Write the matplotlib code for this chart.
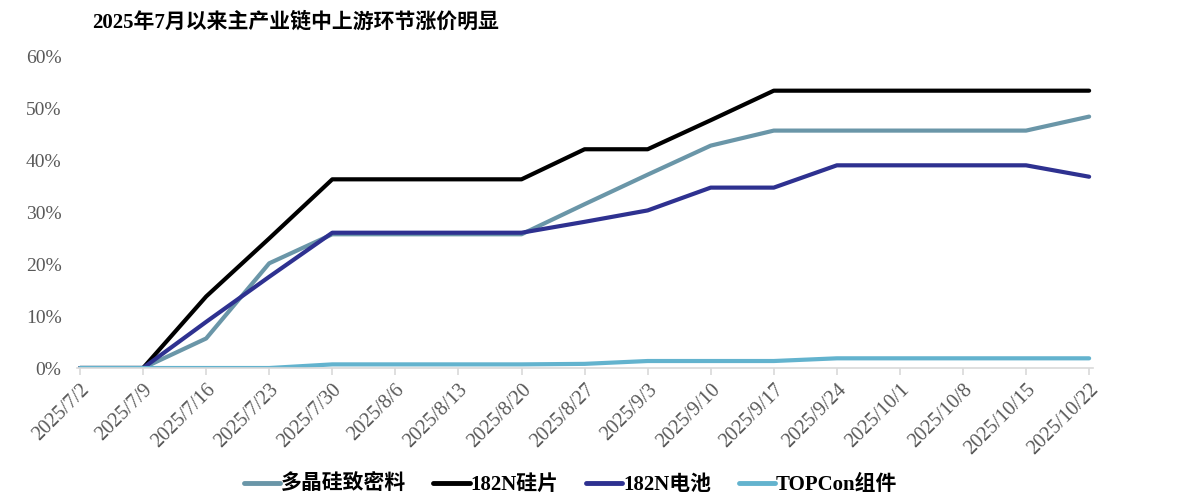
import matplotlib.pyplot as plt
import numpy as np

plt.rcParams['font.family'] = ['Liberation Serif', 'Noto Sans CJK SC']

dates = ["2025/7/2", "2025/7/9", "2025/7/16", "2025/7/23", "2025/7/30", "2025/8/6",
         "2025/8/13", "2025/8/20", "2025/8/27", "2025/9/3", "2025/9/10", "2025/9/17",
         "2025/9/24", "2025/10/1", "2025/10/8", "2025/10/15", "2025/10/22"]

polysilicon = [0, 0, 5.7, 20.2, 25.8, 25.8, 25.8, 25.8, 31.6, 37.3, 42.9, 45.8,
               45.8, 45.8, 45.8, 45.8, 48.5]
wafer = [0, 0, 13.8, 25.0, 36.4, 36.4, 36.4, 36.4, 42.2, 42.2, 47.8, 53.5,
         53.5, 53.5, 53.5, 53.5, 53.5]
cell = [0, 0, 8.9, 17.6, 26.1, 26.1, 26.1, 26.1, 28.2, 30.4, 34.8, 34.8,
        39.1, 39.1, 39.1, 39.1, 36.9]
module = [0, 0, 0, 0, 0.7, 0.7, 0.7, 0.7, 0.8, 1.35, 1.35, 1.35,
          1.87, 1.87, 1.87, 1.87, 1.87]

series = [
    ("多晶硅致密料", polysilicon, "#6A96A8"),
    ("182N硅片", wafer, "#000000"),
    ("182N电池", cell, "#2E3190"),
    ("TOPCon组件", module, "#63B3CE"),
]

fig = plt.figure(figsize=(12.01, 4.99), dpi=100)
ax = fig.add_axes([0.064, 0.2625, 0.846, 0.6233])

x = np.arange(len(dates))
for name, vals, color in series:
    ax.plot(x, np.array(vals) / 100, color=color, lw=3.0, label=name,
            solid_capstyle='round', solid_joinstyle='round')

ax.set_xlim(-0.05, len(dates) - 1 + 0.06)
ax.set_ylim(0, 0.6)
ax.set_yticks(np.arange(0, 0.61, 0.1))
ax.set_yticklabels([f"{int(round(v * 100))}%" for v in np.arange(0, 0.61, 0.1)])
ax.set_xticks(x)
ax.set_xticklabels(dates, rotation=45, ha='right', rotation_mode='anchor')

for s in ['top', 'right', 'left']:
    ax.spines[s].set_visible(False)
ax.spines['bottom'].set_color('#D9D9D9')
ax.spines['bottom'].set_linewidth(1.2)
ax.tick_params(axis='y', length=0, labelsize=14, labelcolor='#595959', pad=11)
ax.tick_params(axis='x', length=5, color='#D9D9D9', width=1.2, labelsize=14.5,
               labelcolor='#595959', pad=4)

fig.text(0.077, 0.955, "2025年7月以来主产业链中上游环节涨价明显", fontsize=15,
         fontweight='bold', ha='left', va='center')

leg = fig.legend(loc='center', bbox_to_anchor=(0.475, 0.028), ncol=4, frameon=False,
                 prop={'size': 15, 'weight': 'bold'}, handlelength=1.75,
                 handletextpad=0.05, columnspacing=1.3)
for line in leg.get_lines():
    line.set_linewidth(3.5)

fig.savefig("out.png", dpi=100)
